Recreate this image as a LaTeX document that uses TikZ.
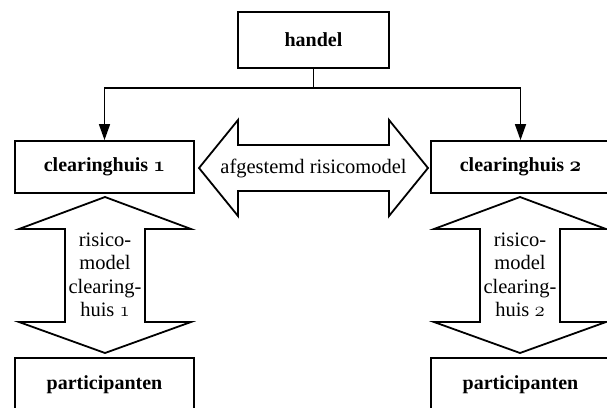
\documentclass[tikz,border=0pt]{standalone}
\usepackage{fontspec}
\setmainfont{Liberation Serif}
\usetikzlibrary{arrows.meta}
\newcommand\oldnum[2]{{\usefont{OML}{cmm}{#1}{it}#2}}
\tikzset{
  box/.style={draw,line width=1.8pt,minimum width=179pt,minimum height=52pt,
    font=\fontsize{20}{24}\selectfont\bfseries},
  flow/.style={line width=1.6pt,-{Triangle[length=16pt,width=11pt]}},
  bigarrow/.style={line width=1.8pt,line join=miter},
  arrowtext/.style={align=center,inner sep=0pt,font=\fontsize{20.5}{23.5}\selectfont}
}

\begin{document}
\begin{tikzpicture}[x=1pt,y=-1pt]
    \useasboundingbox (0,0) rectangle (607,407);
    %% Boxes
    \node[box,minimum width=151pt,minimum height=56pt] (handel) at (313.5,40) {handel};
    \node[box] (ch1) at (104.5,167) {clearinghuis \oldnum{b}{1}};
    \node[box] (ch2) at (520.5,167) {clearinghuis \oldnum{b}{2}};
    \node[box,minimum height=54pt] (part1) at (104.5,385) {participanten};
    \node[box,minimum height=54pt] (part2) at (520.5,385) {participanten};

    %% Split from handel
    \draw[line width=1.6pt]
    (handel.south) -- ++(0,19) coordinate (split)
    ;
    \draw[flow] (split) -| (ch1.north);
    \draw[flow] (split) -| (ch2.north);

    %% Agreed risk model
    \node[arrowtext] (agreed) at (313.5,168) {afgestemd risicomodel};
    \draw[bigarrow]
    (199,168) -- (238,120) -- (238,145) -- (389,145) -- (389,120) -- (428,168)
    -- (389,216) -- (389,191) -- (238,191) -- (238,216) -- cycle
    ;

    %% Risk model per clearing house
    \foreach \x/\i in {105/1,520/2}
    {
    \draw[bigarrow]
    (\x,197) -- (\x+86,229) -- (\x+40,229) -- (\x+40,322) -- (\x+86,322)
    -- (\x,353) -- (\x-86,322) -- (\x-40,322) -- (\x-40,229) -- (\x-86,229) -- cycle
    ;
    \node[arrowtext] (model\i) at (\x,275) {risico-\\model\\clearing-\\huis \oldnum{m}{\i}};
    }
\end{tikzpicture}
\end{document}
